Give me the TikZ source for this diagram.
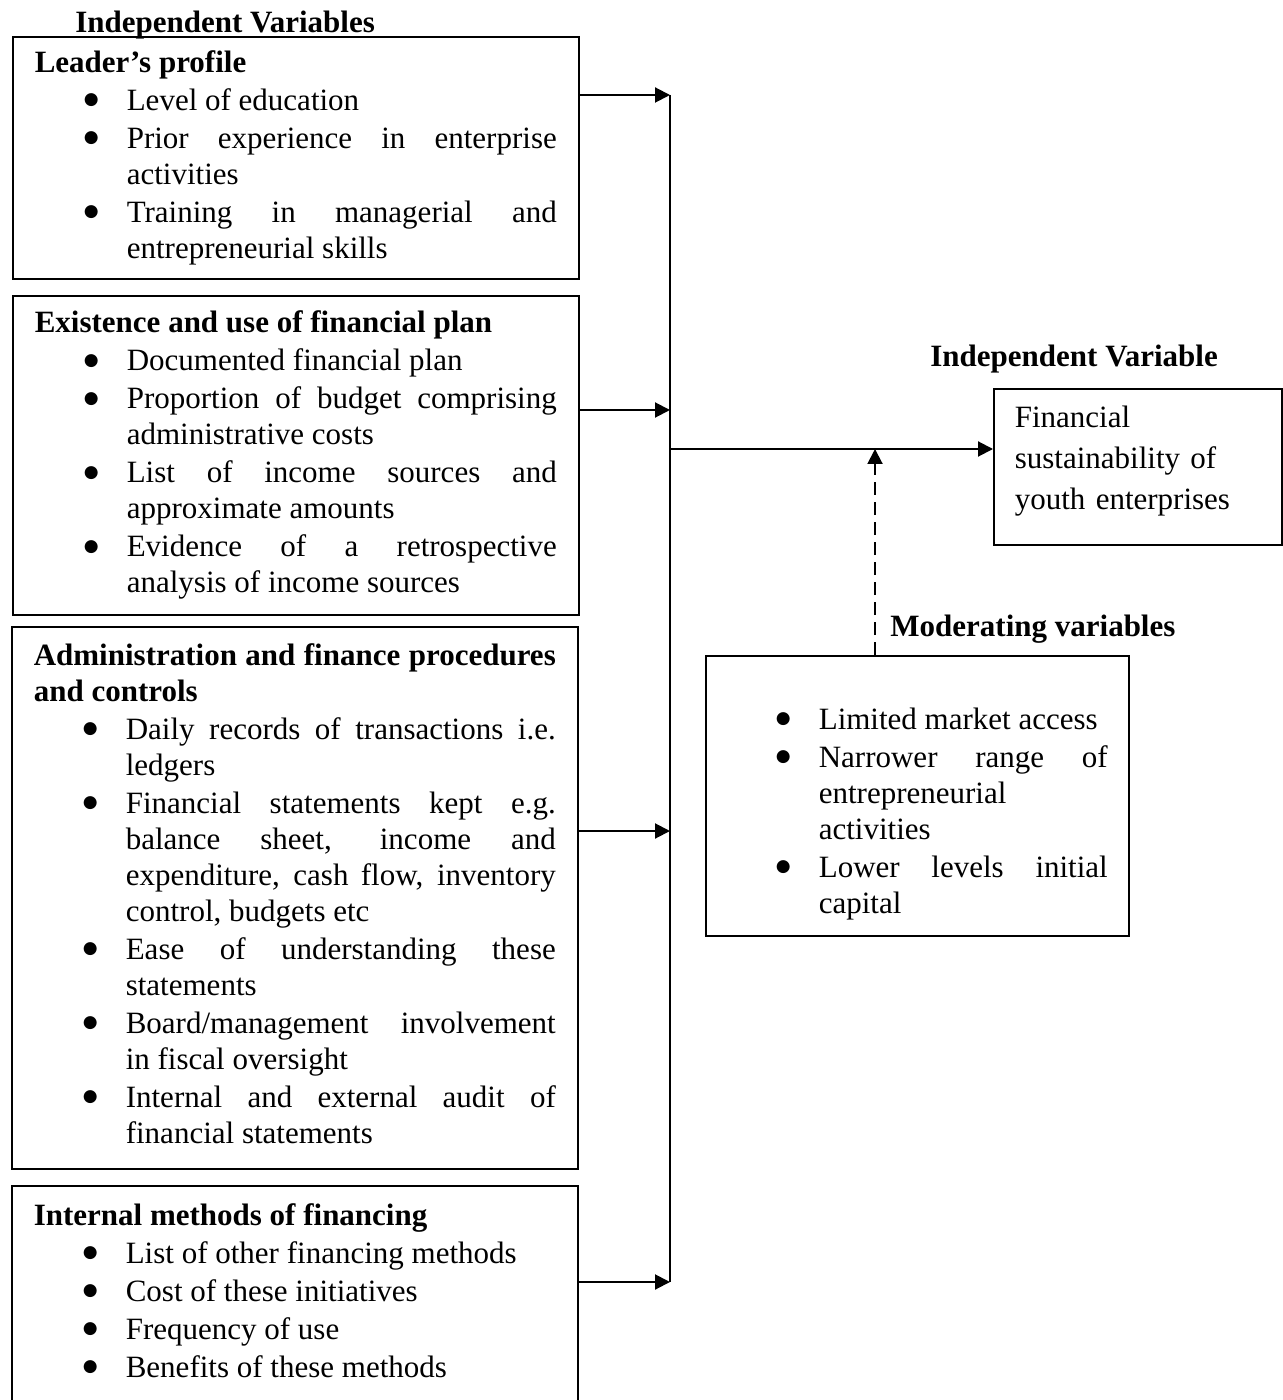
\documentclass[tikz,border=0pt]{standalone}
\usepackage{fontspec}
\setmainfont{Liberation Serif}
\newfontfamily\dotfont{DejaVu Sans}
\usepackage{tikz}
\usetikzlibrary{arrows.meta,positioning}
\newcommand{\boxfont}{\fontsize{15.5}{18}\selectfont\hyphenpenalty=10000\exhyphenpenalty=10000}
\newcommand{\bigdot}{\raisebox{2.8pt}{\fontsize{8.5}{10}\dotfont ●}}
\newcommand{\lowstrut}[1]{\rule[-#1]{0pt}{#1}}
\newenvironment{dotlist}{\begin{list}{\bigdot}{%
    \setlength{\leftmargin}{46pt}\setlength{\labelwidth}{32pt}%
    \setlength{\labelsep}{14pt}\setlength{\itemsep}{1pt}%
    \setlength{\parsep}{0pt}\setlength{\topsep}{1pt}\setlength{\partopsep}{0pt}}}%
  {\end{list}}
\tikzstyle{busline} = [line width=1pt]
\tikzstyle{arrow} = [line width=1pt,-{Triangle[length=7.5pt,width=7.5pt]}]
\tikzstyle{dasharrow} = [arrow, dash pattern=on 6.5pt off 3.5pt]
\tikzstyle{varbox} = [rectangle, draw, line width=0.8pt, anchor=north west,
    inner xsep=11pt, inner ysep=0pt, text width=261pt, align=justify, font=\boxfont]
\tikzstyle{heading} = [anchor=base west, inner sep=0pt, font=\boxfont\bfseries]

\begin{document}
\begin{tikzpicture}[x=0.5pt, y=-0.5pt]
\useasboundingbox (0,0) rectangle (1282,1400);
\node[heading] (ivs) at (75,33) {Independent Variables};
\node[varbox, minimum height=121pt] (lead) at (12,36) {\textbf{Leader's profile}
\begin{dotlist}
\item Level of education
\item Prior experience in enterprise\linebreak activities
\item Training in managerial and\linebreak entrepreneurial skills
\end{dotlist}};
\node[varbox, minimum height=159.5pt] (plan) at (12,295) {\textbf{Existence and use of financial plan}
\begin{dotlist}
\item Documented financial plan
\item Proportion of budget comprising\linebreak administrative costs
\item List of income sources and\linebreak approximate amounts
\item Evidence of a retrospective\linebreak analysis of income sources
\end{dotlist}};
\node[varbox, minimum height=271pt] (admin) at (11,626) {\textbf{Administration and finance procedures\linebreak and controls}
\begin{dotlist}
\item Daily records of transactions i.e.\linebreak ledgers
\item Financial statements kept e.g.\linebreak balance sheet, income and\linebreak expenditure, cash flow, inventory\linebreak control, budgets etc
\item Ease of understanding these\linebreak statements
\item Board/management involvement\linebreak in fiscal oversight
\item Internal and external audit of\linebreak financial statements\lowstrut{4.5pt}
\end{dotlist}};
\node[varbox, minimum height=111pt] (intl) at (11,1185) {\textbf{Internal methods of financing}
\begin{dotlist}
\item List of other financing methods
\item Cost of these initiatives
\item Frequency of use
\item Benefits of these methods\lowstrut{6.5pt}
\end{dotlist}};

\node[heading] (iv) at (930,367) {Independent Variable};
\node[rectangle, draw, line width=0.8pt, anchor=north west, minimum width=144pt,
    minimum height=78pt, inner xsep=10.5pt, text width=123pt, align=left,
    font=\fontsize{15.5}{20.5}\selectfont] (outc) at (993,388)
    {Financial\\sustainability of\\youth enterprises\lowstrut{9.5pt}};

\node[heading] (mv) at (890,636) {Moderating variables};
\node[varbox, inner xsep=10.5pt, text width=190.5pt, minimum height=140pt] (modr) at (705,655) {\vspace*{10pt}
\begin{dotlist}
\item Limited market access
\item Narrower range of\linebreak entrepreneurial\newline activities
\item Lower levels initial\linebreak capital
\end{dotlist}};

\coordinate (j1) at (670,95);
\coordinate (j2) at (670,410);
\coordinate (j3) at (670,831);
\coordinate (j4) at (670,1282);
\coordinate (hub) at (670,449);
\coordinate (mhit) at (875,449);
\draw[busline] (j1) -- (j4);
\draw[arrow] (lead.east |- j1) -- (j1);
\draw[arrow] (plan.east |- j2) -- (j2);
\draw[arrow] (admin.east |- j3) -- (j3);
\draw[arrow] (intl.east |- j4) -- (j4);
\draw[arrow] (hub) -- (hub -| outc.west);
\draw[dasharrow] (modr.north -| mhit) -- (mhit);
\end{tikzpicture}
\end{document}
